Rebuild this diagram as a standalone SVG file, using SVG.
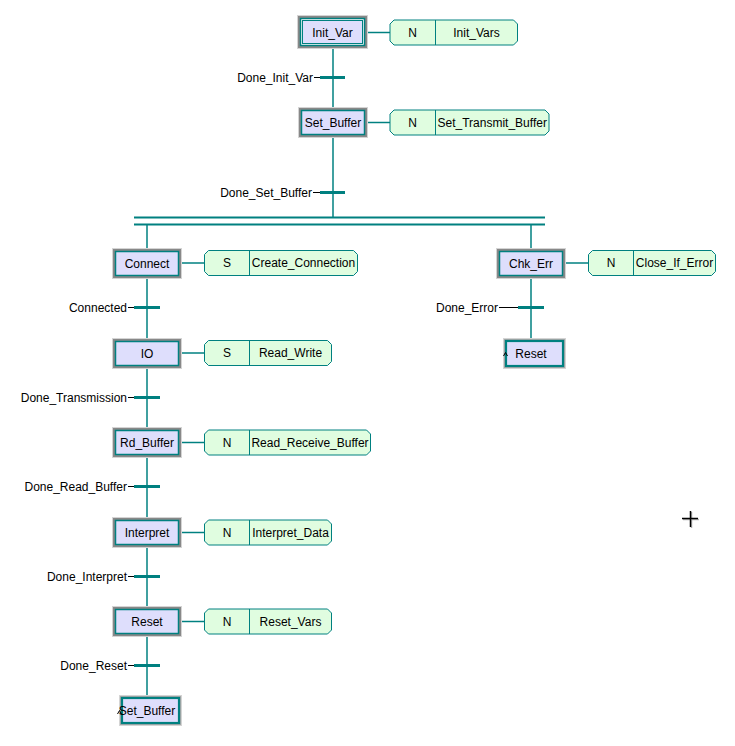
<svg xmlns="http://www.w3.org/2000/svg" width="735" height="746" viewBox="0 0 735 746">
<style>
text{font-family:"Liberation Sans",Arial,sans-serif;font-size:12px;fill:#000}
.c{text-anchor:middle}
.e{text-anchor:end}
.ln{stroke:#008080;stroke-width:1.5;fill:none}
.bar{stroke:#008080;stroke-width:3;fill:none}
.par{stroke:#008080;stroke-width:2;fill:none}
.dash{stroke:#000;stroke-width:1;fill:none}
.o1{fill:#d4d4d4}
.o2{fill:#888888}
.o3{fill:#a8a8a8}
.st{fill:#dedefc;stroke:#008080;stroke-width:1.5}
.jst{fill:#dedefc;stroke:#008080;stroke-width:2.2}
.act{fill:#e0fde0;stroke:#008080;stroke-width:1}
.dv{stroke:#008080;stroke-width:1}
.car{stroke:#000;stroke-width:1;fill:none}
</style>

<g id="connectors">
  <line class="ln" x1="333" y1="48" x2="333" y2="107"/>
  <line class="ln" x1="333" y1="138" x2="333" y2="218"/>
  <line class="par" x1="134" y1="217.5" x2="545" y2="217.5"/>
  <line class="par" x1="134" y1="224.5" x2="545" y2="224.5"/>
  <line class="ln" x1="147" y1="225" x2="147" y2="248"/>
  <line class="ln" x1="147" y1="279" x2="147" y2="338"/>
  <line class="ln" x1="147" y1="369" x2="147" y2="427"/>
  <line class="ln" x1="147" y1="458" x2="147" y2="517"/>
  <line class="ln" x1="147" y1="548" x2="147" y2="606"/>
  <line class="ln" x1="147" y1="637" x2="147" y2="695"/>
  <line class="ln" x1="531" y1="225" x2="531" y2="248"/>
  <line class="ln" x1="531" y1="279" x2="531" y2="338"/>
  <line class="ln" x1="365" y1="32.5" x2="390" y2="32.5"/>
  <line class="ln" x1="365" y1="122.5" x2="390" y2="122.5"/>
  <line class="ln" x1="179" y1="263" x2="204.5" y2="263"/>
  <line class="ln" x1="563" y1="263" x2="588.5" y2="263"/>
  <line class="ln" x1="179" y1="353" x2="204.5" y2="353"/>
  <line class="ln" x1="179" y1="442.5" x2="204.5" y2="442.5"/>
  <line class="ln" x1="179" y1="532.5" x2="204.5" y2="532.5"/>
  <line class="ln" x1="179" y1="621.5" x2="204.5" y2="621.5"/>
</g>

<g id="transitions">
  <g id="t-Done_Init_Var">
    <line class="bar" x1="320" y1="77.5" x2="345" y2="77.5"/>
    <line class="dash" x1="314" y1="77.5" x2="320" y2="77.5"/>
    <text class="e" x="313" y="81.7">Done_Init_Var</text>
  </g>
  <g id="t-Done_Set_Buffer">
    <line class="bar" x1="320" y1="192.5" x2="345" y2="192.5"/>
    <line class="dash" x1="313" y1="192.5" x2="320" y2="192.5"/>
    <text class="e" x="312" y="196.7">Done_Set_Buffer</text>
  </g>
  <g id="t-Connected">
    <line class="bar" x1="134" y1="307.5" x2="160" y2="307.5"/>
    <line class="dash" x1="128" y1="307.5" x2="134" y2="307.5"/>
    <text class="e" x="127" y="311.7">Connected</text>
  </g>
  <g id="t-Done_Transmission">
    <line class="bar" x1="134" y1="397.5" x2="160" y2="397.5"/>
    <line class="dash" x1="128" y1="397.5" x2="134" y2="397.5"/>
    <text class="e" x="127" y="401.7">Done_Transmission</text>
  </g>
  <g id="t-Done_Read_Buffer">
    <line class="bar" x1="134" y1="486.5" x2="160" y2="486.5"/>
    <line class="dash" x1="128" y1="486.5" x2="134" y2="486.5"/>
    <text class="e" x="127" y="490.7">Done_Read_Buffer</text>
  </g>
  <g id="t-Done_Interpret">
    <line class="bar" x1="134" y1="576.5" x2="160" y2="576.5"/>
    <line class="dash" x1="128" y1="576.5" x2="134" y2="576.5"/>
    <text class="e" x="127" y="580.7">Done_Interpret</text>
  </g>
  <g id="t-Done_Reset">
    <line class="bar" x1="134" y1="665.5" x2="160" y2="665.5"/>
    <line class="dash" x1="128" y1="665.5" x2="134" y2="665.5"/>
    <text class="e" x="127" y="669.7">Done_Reset</text>
  </g>
  <g id="t-Done_Error">
    <line class="bar" x1="518" y1="307.5" x2="544" y2="307.5"/>
    <line class="dash" x1="499" y1="307.5" x2="518" y2="307.5"/>
    <text class="e" x="498" y="311.7">Done_Error</text>
  </g>
</g>

<g id="step-Init_Var">
  <rect class="o1" x="297" y="15" width="71" height="34"/>
  <rect class="o2" x="298" y="16" width="69" height="32"/>
  <rect x="300.5" y="18.5" width="64" height="27" fill="#ffffff" stroke="#008080" stroke-width="1.5"/>
  <rect x="302.5" y="20.5" width="60" height="23" fill="#dedefc" stroke="#008080" stroke-width="1"/>
  <text class="c" x="332.5" y="36.7">Init_Var</text>
</g>

<g id="step-Set_Buffer">
  <rect class="o1" x="298" y="107" width="70" height="31"/>
  <rect class="o2" x="299" y="108" width="68" height="29"/>
  <rect class="st" x="301.5" y="110.5" width="63" height="24"/>
  <text class="c" x="333" y="126.7">Set_Buffer</text>
</g>

<g id="step-Connect">
  <rect class="o1" x="112" y="248" width="70" height="31"/>
  <rect class="o2" x="113" y="249" width="68" height="29"/>
  <rect class="st" x="115.5" y="251.5" width="63" height="24"/>
  <text class="c" x="147" y="267.7">Connect</text>
</g>

<g id="step-IO">
  <rect class="o1" x="112" y="338" width="70" height="31"/>
  <rect class="o2" x="113" y="339" width="68" height="29"/>
  <rect class="st" x="115.5" y="341.5" width="63" height="24"/>
  <text class="c" x="147" y="357.7">IO</text>
</g>

<g id="step-Rd_Buffer">
  <rect class="o1" x="112" y="427" width="70" height="31"/>
  <rect class="o2" x="113" y="428" width="68" height="29"/>
  <rect class="st" x="115.5" y="430.5" width="63" height="24"/>
  <text class="c" x="147" y="446.7">Rd_Buffer</text>
</g>

<g id="step-Interpret">
  <rect class="o1" x="112" y="517" width="70" height="31"/>
  <rect class="o2" x="113" y="518" width="68" height="29"/>
  <rect class="st" x="115.5" y="520.5" width="63" height="24"/>
  <text class="c" x="147" y="536.7">Interpret</text>
</g>

<g id="step-Reset">
  <rect class="o1" x="112" y="606" width="70" height="31"/>
  <rect class="o2" x="113" y="607" width="68" height="29"/>
  <rect class="st" x="115.5" y="609.5" width="63" height="24"/>
  <text class="c" x="147" y="625.7">Reset</text>
</g>

<g id="step-Chk_Err">
  <rect class="o1" x="496" y="248" width="70" height="31"/>
  <rect class="o2" x="497" y="249" width="68" height="29"/>
  <rect class="st" x="499.5" y="251.5" width="63" height="24"/>
  <text class="c" x="531" y="267.7">Chk_Err</text>
</g>

<g id="jump-Reset">
  <rect class="o1" x="503" y="338" width="63" height="31"/>
  <rect class="o3" x="504" y="339" width="61" height="29"/>
  <rect class="jst" x="506" y="341" width="57" height="25"/>
  <text class="c" x="531" y="357.7">Reset</text>
  <polyline class="car" points="503.5,356 505.5,352.5 507.5,356"/>
</g>

<g id="jump-Set_Buffer">
  <rect class="o1" x="119" y="695" width="63" height="31"/>
  <rect class="o3" x="120" y="696" width="61" height="29"/>
  <rect class="jst" x="122" y="698" width="57" height="25"/>
  <text class="c" x="147" y="715.2">Set_Buffer</text>
  <polyline class="car" points="117.5,714 119.5,710.5 121.5,714"/>
</g>

<g id="action-Init_Vars">
  <path class="act" d="M394,20 H513.5 L517.5,24 V41 L513.5,45 H394 L390,41 V24 Z"/>
  <line class="dv" x1="435.5" y1="20" x2="435.5" y2="45"/>
  <text class="c" x="412.7" y="36.7">N</text>
  <text class="c" x="476.5" y="36.7">Init_Vars</text>
</g>

<g id="action-Set_Transmit_Buffer">
  <path class="act" d="M394,110 H545 L549,114 V131 L545,135 H394 L390,131 V114 Z"/>
  <line class="dv" x1="435.5" y1="110" x2="435.5" y2="135"/>
  <text class="c" x="412.7" y="126.7">N</text>
  <text class="c" x="492.2" y="126.7">Set_Transmit_Buffer</text>
</g>

<g id="action-Create_Connection">
  <path class="act" d="M208.5,250.5 H353.5 L357.5,254.5 V271.5 L353.5,275.5 H208.5 L204.5,271.5 V254.5 Z"/>
  <line class="dv" x1="249.5" y1="250.5" x2="249.5" y2="275.5"/>
  <text class="c" x="227" y="267.2">S</text>
  <text class="c" x="303.5" y="267.2">Create_Connection</text>
</g>

<g id="action-Close_If_Error">
  <path class="act" d="M592.5,250.5 H711.5 L715.5,254.5 V271.5 L711.5,275.5 H592.5 L588.5,271.5 V254.5 Z"/>
  <line class="dv" x1="633.5" y1="250.5" x2="633.5" y2="275.5"/>
  <text class="c" x="611" y="267.2">N</text>
  <text class="c" x="674.5" y="267.2">Close_If_Error</text>
</g>

<g id="action-Read_Write">
  <path class="act" d="M208.5,340.5 H327.5 L331.5,344.5 V361.5 L327.5,365.5 H208.5 L204.5,361.5 V344.5 Z"/>
  <line class="dv" x1="249.5" y1="340.5" x2="249.5" y2="365.5"/>
  <text class="c" x="227" y="357.2">S</text>
  <text class="c" x="290.5" y="357.2">Read_Write</text>
</g>

<g id="action-Read_Receive_Buffer">
  <path class="act" d="M208.5,430 H366.5 L370.5,434 V451 L366.5,455 H208.5 L204.5,451 V434 Z"/>
  <line class="dv" x1="249.5" y1="430" x2="249.5" y2="455"/>
  <text class="c" x="227" y="446.7">N</text>
  <text class="c" x="310" y="446.7">Read_Receive_Buffer</text>
</g>

<g id="action-Interpret_Data">
  <path class="act" d="M208.5,520 H327.5 L331.5,524 V541 L327.5,545 H208.5 L204.5,541 V524 Z"/>
  <line class="dv" x1="249.5" y1="520" x2="249.5" y2="545"/>
  <text class="c" x="227" y="536.7">N</text>
  <text class="c" x="290.5" y="536.7">Interpret_Data</text>
</g>

<g id="action-Reset_Vars">
  <path class="act" d="M208.5,609 H327.5 L331.5,613 V630 L327.5,634 H208.5 L204.5,630 V613 Z"/>
  <line class="dv" x1="249.5" y1="609" x2="249.5" y2="634"/>
  <text class="c" x="227" y="625.7">N</text>
  <text class="c" x="290.5" y="625.7">Reset_Vars</text>
</g>

<g id="cursor">
  <line x1="683" y1="519.5" x2="699" y2="519.5" stroke="#b0b0b0" stroke-width="1.5"/>
  <line x1="691.5" y1="512" x2="691.5" y2="528" stroke="#b0b0b0" stroke-width="1.5"/>
  <line x1="682" y1="518.5" x2="698" y2="518.5" stroke="#000" stroke-width="1.5"/>
  <line x1="690.5" y1="511" x2="690.5" y2="527" stroke="#000" stroke-width="1.5"/>
</g>
</svg>
